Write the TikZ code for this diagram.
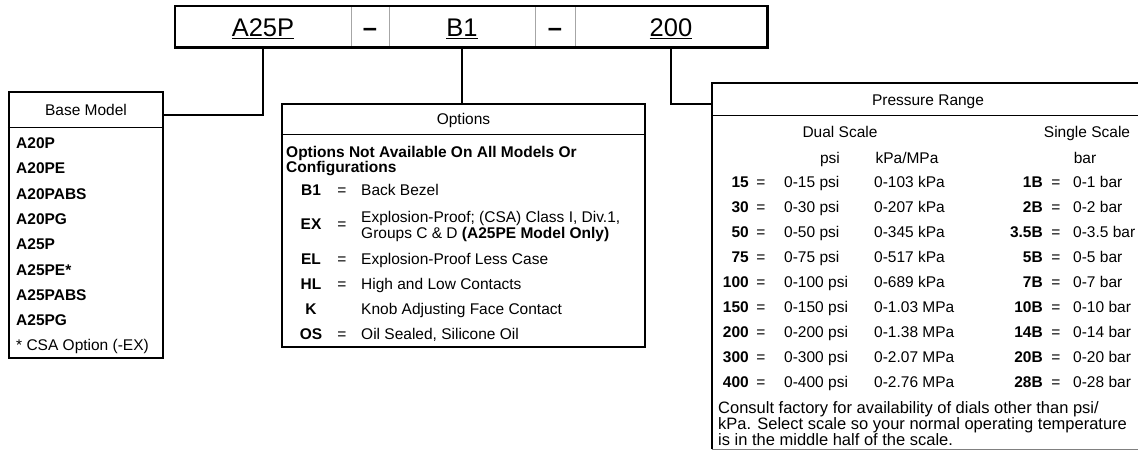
\documentclass[tikz,border=0pt]{standalone}
\usepackage{fontspec}
\setmainfont{Liberation Sans}
\usepackage{tikz}

\newcommand\rowfont{\fontsize{15.5}{17}\selectfont}
\newcommand\barfont{\fontsize{25.5}{28}\selectfont}
\newcommand\notefont{\fontsize{16.5}{14.5}\selectfont}

\begin{document}
\begin{tikzpicture}[x=1pt, y=-1pt, font=\rowfont,
    cell/.style={draw=gray!70, line width=0.8pt, minimum height=41pt, inner sep=0pt,
      text height=20pt, text depth=0pt, font=\barfont},
    frame/.style={draw, line width=2.4pt, inner sep=0pt},
    heavy/.style={line width=2.2pt},
    sep/.style={line width=0.8pt},
    txt/.style={inner sep=0pt, text height=11.1pt, text depth=0pt},
    code/.style={txt, font=\rowfont\bfseries}]
  \useasboundingbox (0,0) rectangle (1138,450);

  % order code
  \node [cell, minimum width=176pt] (a25p) at (263,26.5) {\underline{A25P}};
  \node [cell, minimum width=38pt] (dash1) at (370,26.5) {\textbf{--}};
  \node [cell, minimum width=146pt] (b1) at (462,26.5) {\underline{B1}};
  \node [cell, minimum width=40pt] (dash2) at (555,26.5) {\textbf{--}};
  \node [cell, minimum width=192pt] (c200) at (671,26.5) {\underline{200}};
  \draw [heavy] (a25p.north west) rectangle (c200.south east);

  % base model
  \node [frame, minimum width=154pt, minimum height=266pt] (base) at (86,225) {};
  \draw [sep] (base.west |- 0,127) -- (base.east |- 0,127);
  \node [txt] (basehd) at (86,110) {Base Model};
  \foreach \m [count=\i from 0] in {A20P,A20PE,A20PABS,A20PG,A25P,A25PE*,A25PABS,A25PG}
    \node [code, anchor=west] (bm\i) at (16,143+25.3*\i) {\m};
  \node [txt, anchor=west] (csa) at (16,345) {* CSA Option (-EX)};
  \coordinate (basein) at (base.east |- 0,115);
  \draw [heavy] (a25p.south) |- (basein);

  % options
  \node [frame, minimum width=363pt, minimum height=243pt] (opt) at (463.5,225.5) {};
  \draw [sep] (opt.west |- 0,134) -- (opt.east |- 0,134);
  \node [txt] (opthd) at (463.5,119) {Options};
  \node [inner sep=0pt, anchor=north west, align=left, font=\fontsize{15.5}{15}\selectfont\bfseries]
    (optnote) at (286,146.5) {Options Not Available On All Models Or\\Configurations};
  \foreach \c/\e/\d/\y in {B1/=/Back Bezel/190, EL/=/Explosion-Proof Less Case/259,
      HL/=/High and Low Contacts/284, K//Knob Adjusting Face Contact/309, OS/=/{Oil Sealed, Silicone Oil}/334} {
    \node [code] (oc\c) at (311,\y) {\c};
    \node [txt] (oe\c) at (342,\y) {\e};
    \node [txt, anchor=west] (od\c) at (361,\y) {\d};
  }
  \node [code] (ocEX) at (311,224) {EX};
  \node [txt] (oeEX) at (342,224) {=};
  \node [inner sep=0pt, anchor=north west, align=left, font=\fontsize{15.5}{14}\selectfont]
    (odEX) at (361,211.5) {Explosion-Proof; (CSA) Class I, Div.1,\\Groups C \& D \textbf{(A25PE Model Only)}};
  \draw [heavy] (b1.south) -- (b1.south |- opt.north);

  % pressure range
  \node [inner sep=0pt, minimum width=432pt, minimum height=366pt] (pres) at (928,266) {};
  \draw [heavy] (pres.south west) |- (pres.north east);
  \draw [gray, line width=0.8pt] (pres.south west) -- (pres.south east);
  \draw [sep] (pres.west |- 0,115) -- (pres.east |- 0,115);
  \coordinate (presin) at (pres.west |- 0,104);
  \draw [heavy] (c200.south) |- (presin);
  \node [txt] (preshd) at (928,100) {Pressure Range};
  \node [txt] (dual) at (840,132) {Dual Scale};
  \node [txt] (single) at (1087,132) {Single Scale};
  \node [txt] (psi) at (830,158) {psi};
  \node [txt] (kpa) at (907,158) {kPa/MPa};
  \node [txt] (bar) at (1085,158) {bar};
  \foreach \c/\p/\k/\b/\v [count=\i from 0] in {15/0-15 psi/0-103 kPa/1B/0-1 bar,
      30/0-30 psi/0-207 kPa/2B/0-2 bar, 50/0-50 psi/0-345 kPa/3.5B/0-3.5 bar,
      75/0-75 psi/0-517 kPa/5B/0-5 bar, 100/0-100 psi/0-689 kPa/7B/0-7 bar,
      150/0-150 psi/0-1.03 MPa/10B/0-10 bar, 200/0-200 psi/0-1.38 MPa/14B/0-14 bar,
      300/0-300 psi/0-2.07 MPa/20B/0-20 bar, 400/0-400 psi/0-2.76 MPa/28B/0-28 bar} {
    \node [code, anchor=east] (pc\i) at (749,182+25*\i) {\c};
    \node [txt] (pe\i) at (761,182+25*\i) {=};
    \node [txt, anchor=west] (pp\i) at (784,182+25*\i) {\p};
    \node [txt, anchor=west] (pk\i) at (874,182+25*\i) {\k};
    \node [code, anchor=east] (bc\i) at (1043,182+25*\i) {\b};
    \node [txt] (be\i) at (1056,182+25*\i) {=};
    \node [txt, anchor=west] (bv\i) at (1073,182+25*\i) {\v};
  }
  \node [inner sep=0pt, anchor=north west, align=left, font=\notefont] (presnote) at (718,401)
    {Consult factory for availability of dials other than psi/\\kPa. Select scale so your normal operating temperature\\is in the middle half of the scale.};
\end{tikzpicture}
\end{document}
